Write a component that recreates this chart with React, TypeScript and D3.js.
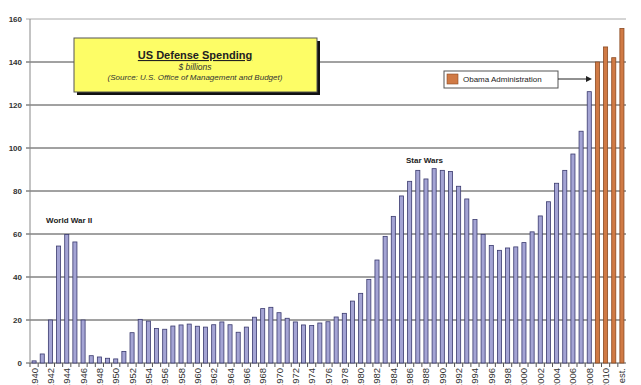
import React from "react";
import * as d3 from "d3";

// categories: 1940 .. 2011, then the estimate
const years: string[] = [...d3.range(1940, 2012).map(String), "est."];

const spending: number[] = [
  1.0, 4.2, 20, 54.4, 59.8, 56.3, 20, 3.4, 2.8, 2.2,
  1.9, 5.4, 14.1, 20.3, 19.5, 16.1, 15.7, 17.2, 17.7, 18.1,
  17.1, 16.7, 17.8, 19.1, 17.8, 14.3, 16.7, 21.3, 25.3, 25.9,
  23.4, 20.8, 19.1, 17.7, 17.4, 18.6, 19.2, 21.4, 23.1, 28.8,
  32.4, 38.9, 47.9, 58.9, 68.2, 77.7, 84.5, 89.6, 85.6, 90.4,
  89.6, 89.1, 82.2, 76.3, 66.7, 59.8, 54.7, 52.4, 53.5, 54,
  56, 61, 68.4, 75, 83.6, 89.6, 97.2, 107.8, 126.2,
  140, 147, 142, 155.6,
];

const obamaYears: string[] = ["2009", "2010", "2011", "est."];
const yTicks: number[] = [0, 20, 40, 60, 80, 100, 120, 140, 160];

const W = 641;
const H = 385;
const margin = { top: 19, right: 15, bottom: 22, left: 30 };
const font = "'Liberation Sans', Arial, sans-serif";

export default function App() {
  const x = d3
    .scaleBand<string>()
    .domain(years)
    .range([margin.left, W - margin.right])
    .paddingInner(0.5)
    .paddingOuter(0.25);

  const y = d3
    .scaleLinear()
    .domain([0, 160])
    .range([H - margin.bottom, margin.top]);

  const y0 = y(0);
  const step = x.step();

  return (
    <div style={{ position: "fixed", left: 0, top: 0, background: "#fff" }}>
      <svg width={W} height={H} style={{ display: "block", fontFamily: font }}>
        <rect width={W} height={H} fill="#fff" />

        {/* grid */}
        {yTicks.map((t) => (
          <g key={t}>
            <line
              x1={margin.left - 4}
              x2={W - margin.right}
              y1={y(t)}
              y2={y(t)}
              stroke={t === 160 ? "#aaa" : t === 0 ? "#555" : "#444"}
              strokeWidth={1}
            />
            <text
              x={margin.left - 8}
              y={y(t) + 3}
              textAnchor="end"
              fontSize={8}
              fontWeight="bold"
              fill="#333"
            >
              {t}
            </text>
          </g>
        ))}
        <line x1={margin.left} x2={margin.left} y1={margin.top} y2={y0} stroke="#888" />

        {/* bars */}
        {years.map((yr, i) => {
          const ob = obamaYears.includes(yr);
          return (
            <rect
              key={yr}
              x={x(yr)!}
              y={y(spending[i])}
              width={x.bandwidth()}
              height={y0 - y(spending[i])}
              fill={ob ? "#d07a45" : "#a4a4d4"}
              stroke={ob ? "#8b4a22" : "#3a3a6e"}
              strokeWidth={0.8}
            />
          );
        })}

        {/* x ticks & labels */}
        {years.map((yr) => (
          <line
            key={"t" + yr}
            x1={x(yr)! - (step - x.bandwidth()) / 2}
            x2={x(yr)! - (step - x.bandwidth()) / 2}
            y1={y0}
            y2={y0 + 4}
            stroke="#555"
          />
        ))}
        {years.map((yr, i) =>
          i % 2 === 0 ? (
            <text
              key={"l" + yr}
              transform={`translate(${x(yr)! + x.bandwidth() / 2 + 3.5},${y0 + 5}) rotate(-90)`}
              textAnchor="end"
              fontSize={9.5}
              fill="#333"
            >
              {yr}
            </text>
          ) : null
        )}

        {/* annotations */}
        <text x={46} y={223} fontSize={8} fontWeight="bold" fill="#222">
          World War II
        </text>
        <text x={406} y={163} fontSize={8} fontWeight="bold" fill="#222">
          Star Wars
        </text>

        {/* title box */}
        <rect x={77} y={41} width={243} height={54} fill="#111" />
        <rect x={74} y={38} width={243} height={54} fill="#fdfd66" stroke="#555" strokeWidth={1} />
        <text x={195} y={59} textAnchor="middle" fontSize={11} fontWeight="bold" fill="#222" textDecoration="underline">
          US Defense Spending
        </text>
        <text x={195} y={70} textAnchor="middle" fontSize={8.5} fontStyle="italic" fill="#333">
          $ billions
        </text>
        <text x={195} y={80} textAnchor="middle" fontSize={8} fontStyle="italic" fill="#333">
          (Source: U.S. Office of Management and Budget)
        </text>

        {/* legend */}
        <rect x={444} y={71} width={114} height={17} fill="#fff" stroke="#555" strokeWidth={1} />
        <rect x={447} y={74} width={11} height={10} fill="#d07a45" stroke="#8b4a22" strokeWidth={0.6} />
        <text x={463} y={82} fontSize={8} fill="#222">
          Obama Administration
        </text>
        <line x1={558} x2={587} y1={79} y2={79} stroke="#222" strokeWidth={1} />
        <path d="M592,79 L586,76 L586,82 Z" fill="#222" />
      </svg>
    </div>
  );
}
